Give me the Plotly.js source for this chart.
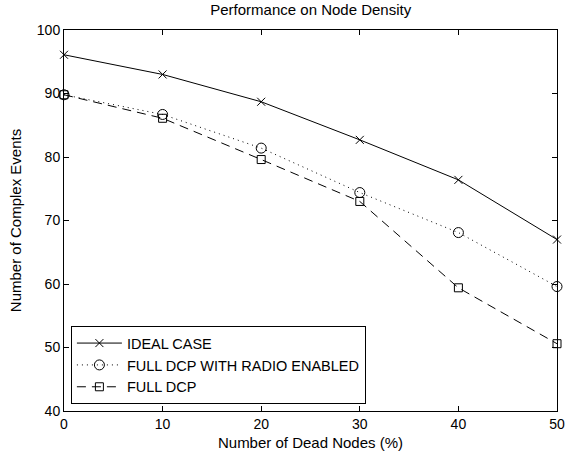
<!DOCTYPE html>
<html>
<head>
<meta charset="utf-8">
<script src="https://cdn.plot.ly/plotly-3.0.1.min.js"></script>
<style>html,body{margin:0;padding:0;background:#fff;}#chart{width:566px;height:451px;}</style>
</head>
<body>
<div id="chart"></div>
<script>
const deadNodes = [0, 10, 20, 30, 40, 50];
const idealCase = [96.1, 93.0, 88.7, 82.7, 76.4, 67.0];
const radioEnabled = [89.8, 86.7, 81.4, 74.4, 68.1, 59.6];
const fullDcp = [89.8, 86.1, 79.6, 73.0, 59.4, 50.6];
const seriesNames = ['IDEAL CASE', 'FULL DCP WITH RADIO ENABLED', 'FULL DCP'];
const xTicks = [0, 10, 20, 30, 40, 50];
const yTicks = [40, 50, 60, 70, 80, 90, 100];

const font = 'Liberation Sans, Arial, Helvetica, sans-serif';

const traces = [
  {
    x: deadNodes, y: idealCase, name: seriesNames[0], type: 'scatter', mode: 'lines+markers',
    line: {color: '#000', width: 1, dash: 'solid'},
    marker: {symbol: 'x-thin-open', size: 8, color: '#000', line: {color: '#000', width: 1}},
    cliponaxis: false
  },
  {
    x: deadNodes, y: radioEnabled, name: seriesNames[1], type: 'scatter', mode: 'lines+markers',
    line: {color: '#000', width: 1, dash: '1px,4px'},
    marker: {symbol: 'circle-open', size: 10, color: '#000', line: {color: '#000', width: 1}},
    cliponaxis: false
  },
  {
    x: deadNodes, y: fullDcp, name: seriesNames[2], type: 'scatter', mode: 'lines+markers',
    line: {color: '#000', width: 1, dash: '9px,6px'},
    marker: {symbol: 'square-open', size: 8, color: '#000', line: {color: '#000', width: 1}},
    cliponaxis: false
  }
];

const layout = {
  width: 566, height: 451,
  margin: {l: 64, r: 9, t: 30, b: 40},
  paper_bgcolor: '#fff', plot_bgcolor: '#fff',
  font: {family: font, size: 14, color: '#000'},
  title: {text: 'Performance on Node Density', font: {family: font, size: 15, color: '#000'}, x: 0.549, xanchor: 'center', y: 0.99, yanchor: 'top'},
  showlegend: true,
  legend: {
    x: 0.014, y: 0.018, xanchor: 'left', yanchor: 'bottom',
    bgcolor: '#fff', bordercolor: '#000', borderwidth: 1,
    font: {family: font, size: 14.5, color: '#000'},
    tracegroupgap: 0, itemwidth: 45
  },
  xaxis: {
    range: [0, 50], tickvals: xTicks, ticktext: xTicks.map(String),
    ticks: 'inside', ticklen: 5, tickcolor: '#000', tickwidth: 1,
    showline: true, linecolor: '#000', linewidth: 1, mirror: 'ticks',
    showgrid: false, zeroline: false,
    tickfont: {family: font, size: 14, color: '#000'},
    title: {text: 'Number of Dead Nodes (%)', font: {family: font, size: 15, color: '#000'}, standoff: 8}
  },
  yaxis: {
    range: [40, 100], tickvals: yTicks, ticktext: yTicks.map(String),
    ticks: 'inside', ticklen: 5, tickcolor: '#000', tickwidth: 1,
    showline: true, linecolor: '#000', linewidth: 1, mirror: 'ticks',
    showgrid: false, zeroline: false,
    tickfont: {family: font, size: 14, color: '#000'},
    title: {text: 'Number of Complex Events', font: {family: font, size: 15, color: '#000'}, standoff: 11}
  }
};

Plotly.newPlot('chart', traces, layout, {displayModeBar: false, staticPlot: true});
</script>
</body>
</html>
